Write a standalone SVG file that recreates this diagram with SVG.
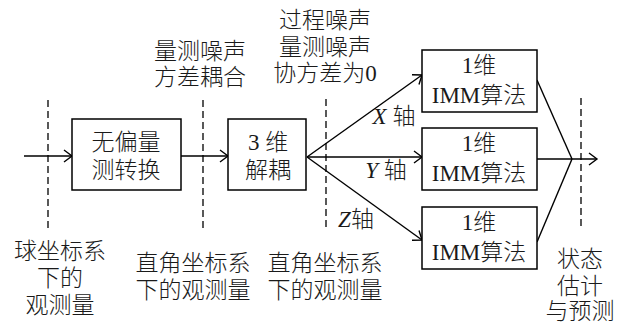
<svg xmlns="http://www.w3.org/2000/svg" width="621" height="324" viewBox="0 0 621 324">
<style>
.box{fill:#fff;stroke:#000;stroke-width:1.5}
.ln{fill:none;stroke:#000;stroke-width:1.4}
.ar{marker-end:url(#ah)}
.dash{fill:none;stroke:#000;stroke-width:1.3;stroke-dasharray:7 4}
text{font-family:"Liberation Serif","Noto Sans CJK SC",serif;font-size:23px;font-weight:300;fill:#1a1a1a;text-anchor:middle}
.it{font-style:italic}
</style>
<defs>
<marker id="ah" markerWidth="12" markerHeight="14" refX="10" refY="7" orient="auto" markerUnits="userSpaceOnUse">
<path d="M2,1 L10,7 L2,13" fill="none" stroke="#000" stroke-width="1.4"/>
</marker>
</defs>
<rect width="621" height="324" fill="#fff"/>
<g id="dashes">
<line class="dash" x1="48" y1="100" x2="48" y2="228"/>
<line class="dash" x1="203" y1="100" x2="203" y2="228"/>
<line class="dash" x1="326" y1="99" x2="326" y2="228"/>
<line class="dash" x1="581" y1="98" x2="581" y2="228"/>
</g>
<g id="connectors">
<line class="ln ar" x1="24" y1="156" x2="72" y2="156"/>
<line class="ln ar" x1="181" y1="156" x2="228" y2="156"/>
<line class="ln ar" x1="307" y1="157" x2="422" y2="75"/>
<line class="ln ar" x1="307" y1="157" x2="422" y2="157"/>
<line class="ln ar" x1="307" y1="157" x2="422" y2="240"/>
<line class="ln" x1="537" y1="80" x2="572" y2="159"/>
<line class="ln" x1="537" y1="242" x2="572" y2="159"/>
<line class="ln ar" x1="537" y1="159" x2="597" y2="159"/>
</g>
<g id="node-convert">
<rect class="box" x="72" y="119" width="109" height="71"/>
<text x="126" y="150">无偏量</text>
<text x="126" y="178">测转换</text>
</g>
<g id="node-decouple">
<rect class="box" x="228" y="119" width="78" height="71"/>
<text x="268" y="150">3 维</text>
<text x="268" y="178">解耦</text>
</g>
<g id="node-imm1">
<rect class="box" x="422" y="50" width="115" height="62"/>
<text x="479" y="73">1维</text>
<text x="479" y="103">IMM算法</text>
</g>
<g id="node-imm2">
<rect class="box" x="422" y="128" width="115" height="62"/>
<text x="479" y="151">1维</text>
<text x="479" y="181">IMM算法</text>
</g>
<g id="node-imm3">
<rect class="box" x="422" y="207" width="115" height="62"/>
<text x="479" y="230">1维</text>
<text x="479" y="260">IMM算法</text>
</g>
<g id="labels">
<text x="200" y="59">量测噪声</text>
<text x="200" y="85">方差耦合</text>
<text x="325" y="28">过程噪声</text>
<text x="325" y="55">量测噪声</text>
<text x="325" y="81">协方差为0</text>
<text x="394" y="124"><tspan class="it">X</tspan> 轴</text>
<text x="386" y="178"><tspan class="it">Y</tspan> 轴</text>
<text x="356" y="227"><tspan class="it">Z</tspan>轴</text>
<text x="60" y="259">球坐标系</text>
<text x="60" y="286">下的</text>
<text x="60" y="313">观测量</text>
<text x="193" y="271">直角坐标系</text>
<text x="193" y="298">下的观测量</text>
<text x="325" y="271">直角坐标系</text>
<text x="325" y="298">下的观测量</text>
<text x="580" y="267">状态</text>
<text x="580" y="294">估计</text>
<text x="580" y="319">与预测</text>
</g>
</svg>
